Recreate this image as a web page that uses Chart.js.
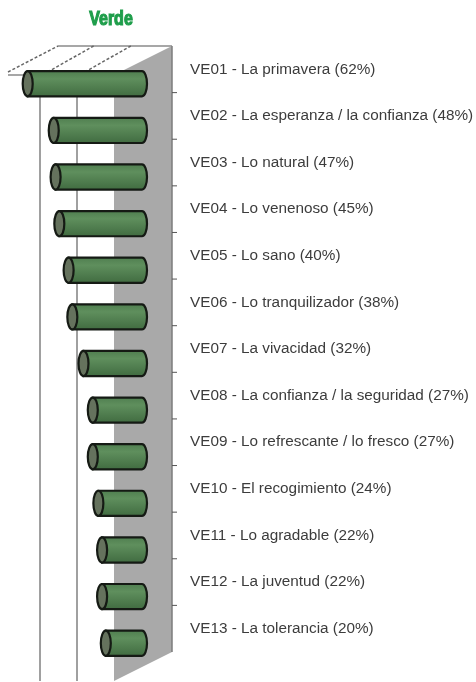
<!DOCTYPE html>
<html>
<head>
<meta charset="utf-8">
<script src="https://cdn.jsdelivr.net/npm/chart.js@4/dist/chart.umd.min.js"></script>
<style>
  html, body { margin: 0; padding: 0; background: #fff; }
  #chart { display: block; }
</style>
</head>
<body>
<canvas id="chart" width="476" height="682"></canvas>
<script>
const title = 'Verde';
const codes = ['VE01', 'VE02', 'VE03', 'VE04', 'VE05', 'VE06', 'VE07', 'VE08', 'VE09', 'VE10', 'VE11', 'VE12', 'VE13'];
const names = ['La primavera', 'La esperanza / la confianza', 'Lo natural', 'Lo venenoso', 'Lo sano',
  'Lo tranquilizador', 'La vivacidad', 'La confianza / la seguridad', 'Lo refrescante / lo fresco',
  'El recogimiento', 'Lo agradable', 'La juventud', 'La tolerancia'];
const values = [62, 48, 47, 45, 40, 38, 32, 27, 27, 24, 22, 22, 20];
const gridValues = [20, 40];

const labels = codes.map((c, i) => c + ' - ' + names[i] + ' (' + values[i] + '%)');

// depth of the fake 3d box
const DX = 58, DY = -29;

const pseudo3d = {
  id: 'pseudo3d',
  beforeDatasetsDraw(chart) {
    const { ctx, chartArea: a, scales } = chart;
    const x = scales.x;
    ctx.save();
    // top wall
    ctx.beginPath();
    ctx.moveTo(a.left, a.top);
    ctx.lineTo(a.right, a.top);
    ctx.lineTo(a.right + DX, a.top + DY);
    ctx.lineTo(a.left + 50, a.top + DY);
    ctx.closePath();
    ctx.fillStyle = '#fff';
    ctx.fill();
    ctx.strokeStyle = '#8a8a8a';
    ctx.lineWidth = 1.5;
    ctx.beginPath();
    ctx.moveTo(a.left + 50, a.top + DY);
    ctx.lineTo(a.right + DX, a.top + DY);
    ctx.moveTo(a.left, a.top);
    ctx.lineTo(a.right, a.top);
    ctx.stroke();
    ctx.setLineDash([3, 2]);
    ctx.strokeStyle = '#666';
    ctx.beginPath();
    ctx.moveTo(a.left, a.top - 3);
    ctx.lineTo(a.left + 50, a.top + DY);
    gridValues.forEach(v => {
      const xf = x.getPixelForValue(v);
      ctx.moveTo(xf + 8, a.top - 3);
      ctx.lineTo(xf + 54, a.top + DY);
    });
    ctx.stroke();
    ctx.setLineDash([]);
    // floor (value 0 plane)
    ctx.beginPath();
    ctx.moveTo(a.right, a.top);
    ctx.lineTo(a.right + DX, a.top + DY);
    ctx.lineTo(a.right + DX, a.bottom + DY);
    ctx.lineTo(a.right, a.bottom);
    ctx.closePath();
    ctx.fillStyle = '#a9a9a9';
    ctx.fill();
    ctx.strokeStyle = '#7c7c7c';
    ctx.lineWidth = 1.5;
    ctx.beginPath();
    ctx.moveTo(a.right + DX, a.top + DY);
    ctx.lineTo(a.right + DX, a.bottom + DY);
    ctx.stroke();
    ctx.restore();
  },
  afterDatasetsDraw(chart) {
    const { ctx, chartArea: a, scales } = chart;
    const y = scales.y;
    const meta = chart.getDatasetMeta(0);
    ctx.save();
    meta.data.forEach(bar => {
      const p = bar.getProps(['x', 'y', 'base', 'height'], true);
      const xl = p.x + DX / 2, xr = p.base + DX / 2, cy = p.y + DY / 2;
      const r = p.height / 2, ex = 5;
      const g = ctx.createLinearGradient(0, cy - r, 0, cy + r);
      g.addColorStop(0, '#507f50');
      g.addColorStop(0.3, '#5f8f5d');
      g.addColorStop(1, '#416c41');
      ctx.beginPath();
      ctx.moveTo(xl, cy - r);
      ctx.lineTo(xr, cy - r);
      ctx.ellipse(xr, cy, ex, r, 0, -Math.PI / 2, Math.PI / 2);
      ctx.lineTo(xl, cy + r);
      ctx.closePath();
      ctx.fillStyle = g;
      ctx.fill();
      ctx.lineWidth = 2.2;
      ctx.strokeStyle = '#151a14';
      ctx.stroke();
      ctx.beginPath();
      ctx.ellipse(xl, cy, ex, r, 0, 0, Math.PI * 2);
      ctx.fillStyle = '#65725d';
      ctx.fill();
      ctx.stroke();
    });
    // small ticks on the back edge
    ctx.strokeStyle = '#555';
    ctx.lineWidth = 1;
    ctx.beginPath();
    for (let i = 1; i < labels.length; i++) {
      const yy = (y.getPixelForValue(i - 1) + y.getPixelForValue(i)) / 2 + DY;
      ctx.moveTo(a.right + DX, yy);
      ctx.lineTo(a.right + DX + 5, yy);
    }
    ctx.stroke();
    // title, condensed heavy look
    ctx.fillStyle = '#1f9e4b';
    ctx.strokeStyle = '#1f9e4b';
    ctx.lineWidth = 1.2;
    ctx.font = 'bold 20px "Liberation Sans", Arial, sans-serif';
    ctx.textAlign = 'center';
    ctx.textBaseline = 'middle';
    ctx.translate(111, 19);
    ctx.scale(0.8, 1);
    ctx.fillText(title, 0, 0);
    ctx.strokeText(title, 0, 0);
    ctx.restore();
  }
};

new Chart(document.getElementById('chart'), {
  type: 'bar',
  data: {
    labels: labels,
    datasets: [{
      data: values,
      backgroundColor: 'rgba(0,0,0,0)',
      borderWidth: 0,
      categoryPercentage: 1,
      barPercentage: 0.54
    }]
  },
  options: {
    indexAxis: 'y',
    responsive: false,
    animation: false,
    layout: { padding: { left: 8, top: 75, right: 0, bottom: 1 } },
    plugins: {
      legend: { display: false },
      tooltip: { enabled: false },
      title: { display: false }
    },
    scales: {
      x: {
        reverse: true,
        min: 0,
        max: 57,
        ticks: { display: false, stepSize: 20 },
        border: { display: false },
        grid: {
          drawTicks: false,
          lineWidth: 2,
          color: c => (c.tick && gridValues.includes(c.tick.value)) ? '#a0a0a0' : 'rgba(0,0,0,0)'
        },
        afterFit: s => { s.height = 0; }
      },
      y: {
        position: 'right',
        grid: { display: false, drawTicks: false },
        border: { display: false },
        ticks: {
          padding: 76,
          labelOffset: -29,
          autoSkip: false,
          color: '#3c3c3c',
          font: { family: '"Liberation Sans", Arial, sans-serif', size: 15.3 }
        },
        afterFit: s => {
          s.width = 362;
          s.paddingTop = 0;
          s.paddingBottom = 0;
        }
      }
    }
  },
  plugins: [pseudo3d]
});
</script>
</body>
</html>
